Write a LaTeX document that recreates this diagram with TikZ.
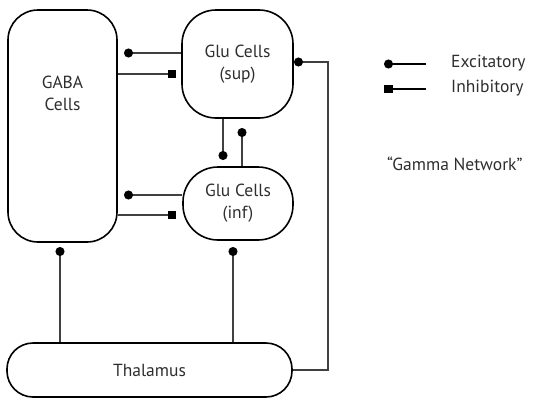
\documentclass[tikz,border=0pt]{standalone}
\usepackage{fontspec}
\setmainfont{PT Sans}
\usetikzlibrary{arrows.meta}
\begin{document}
\begin{tikzpicture}[x=1pt,y=-1pt,
  txt/.style={text=black!82, font=\fontsize{17.5}{22}\selectfont},
  cell/.style={draw=black, line width=1.6pt, align=center, inner sep=0pt, txt},
  link/.style={draw=black!75, line width=1.1pt},
  exc/.style={link, -{Circle[length=9pt,width=9pt,color=black]}},
  inh/.style={link, -{Square[length=8.5pt,width=8.5pt,color=black]}},
  lbl/.style={anchor=west, inner sep=0pt, txt}]
\useasboundingbox (0,0) rectangle (538,400);

% cell populations
\node[cell, minimum width=109pt, minimum height=232pt, rounded corners=30pt] (gaba) at (62.5,126) {};
\node[txt, align=center, inner sep=0pt] (gabatxt) at (62.5,93) {GABA\\Cells};
\node[cell, minimum width=111pt, minimum height=108pt, rounded corners=34pt] (sup) at (237.5,64) {Glu Cells\\(sup)};
\node[cell, minimum width=110pt, minimum height=73pt, rounded corners=35pt] (inf) at (238,203.5) {Glu Cells\\(inf)};
\node[cell, minimum width=285pt, minimum height=54pt, rounded corners=26pt] (thal) at (149.5,370) {Thalamus};

% free ends of the connectors
\coordinate (e1) at (124,53);
\coordinate (i1) at (176,74);
\coordinate (e2) at (124,195);
\coordinate (i2) at (176,215);
\coordinate (e3) at (223,160);
\coordinate (e4) at (242,128);
\coordinate (e5) at (60,247);
\coordinate (e6) at (233,247);
\coordinate (e7) at (294,62);
\coordinate (bend1) at (328,370);
\coordinate (bend2) at (328,62);

% GABA <-> Glu (sup)
\draw[exc] (sup.west |- e1) -- (e1);
\draw[inh] (gaba.east |- i1) -- (i1);
% GABA <-> Glu (inf)
\draw[exc] (inf.west |- e2) -- (e2);
\draw[inh] (gaba.east |- i2) -- (i2);
% Glu (sup) <-> Glu (inf)
\draw[exc] (sup.south -| e3) -- (e3);
\draw[exc] (inf.north -| e4) -- (e4);
% thalamic input
\draw[exc] (thal.north -| e5) -- (e5);
\draw[exc] (thal.north -| e6) -- (e6);
% feedback loop from the thalamus to Glu (sup)
\draw[exc] (thal.east) -- (bend1) -- (bend2) -- (e7);

% legend
\coordinate (la) at (426,64);
\coordinate (lb) at (384,64);
\coordinate (lc) at (426,89);
\coordinate (ld) at (384,89);
\draw[exc, draw=black] (la) -- (lb);
\draw[inh, draw=black] (lc) -- (ld);
\node[lbl] (lexc) at (451,63) {Excitatory};
\node[lbl] (linh) at (451,88) {Inhibitory};
\node[lbl] (title) at (387,164) {“Gamma Network”};
\end{tikzpicture}
\end{document}
